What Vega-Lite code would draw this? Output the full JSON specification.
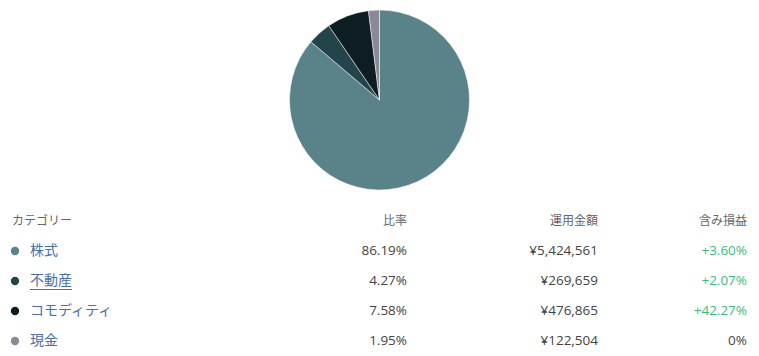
{
  "$schema": "https://vega.github.io/schema/vega-lite/v6.json",
  "padding": 0,
  "spacing": 6,
  "background": "#ffffff",
  "config": {"view": {"stroke": null}, "font": "Open Sans, Noto Sans CJK JP", "axis": {"disable": true}},
  "datasets": {
    "assets": [
      {"idx": 1, "cat": "株式", "pct": 86.19, "ratio": "86.19%", "amount": "¥5,424,561", "gain": "+3.60%"},
      {"idx": 2, "cat": "不動産", "pct": 4.27, "ratio": "4.27%", "amount": "¥269,659", "gain": "+2.07%"},
      {"idx": 3, "cat": "コモディティ", "pct": 7.58, "ratio": "7.58%", "amount": "¥476,865", "gain": "+42.27%"},
      {"idx": 4, "cat": "現金", "pct": 1.95, "ratio": "1.95%", "amount": "¥122,504", "gain": "0%"}
    ],
    "headers": [
      {"col": "category", "label": "カテゴリー"},
      {"col": "ratio", "label": "比率"},
      {"col": "amount", "label": "運用金額"},
      {"col": "gain", "label": "含み損益"}
    ]
  },
  "resolve": {"scale": {"color": "independent", "y": "independent", "x": "independent"}},
  "vconcat": [
    {
      "width": 759,
      "height": 200,
      "data": {"name": "assets"},
      "mark": {"type": "arc", "outerRadius": 90, "stroke": "#ffffff", "strokeWidth": 0.5},
      "encoding": {
        "theta": {"field": "pct", "type": "quantitative", "stack": true},
        "order": {"field": "idx", "type": "quantitative"},
        "color": {
          "field": "cat", "type": "nominal", "legend": null,
          "scale": {"domain": ["株式", "不動産", "コモディティ", "現金"], "range": ["#5a8289", "#24444b", "#0e1d22", "#8a8995"]}
        }
      }
    },
    {
      "spacing": 0,
      "bounds": "flush",
      "resolve": {"scale": {"color": "independent", "y": "independent", "x": "independent"}},
      "hconcat": [
        {
          "width": 45,
          "height": 150,
          "layer": [
            {
              "data": {"name": "headers"},
              "transform": [{"filter": "datum.col === 'category'"}],
              "mark": {"type": "text", "align": "left", "baseline": "middle", "fontSize": 12, "color": "#666666", "dx": -18},
              "encoding": {
                "x": {"datum": "cat", "type": "nominal", "axis": null, "scale": {"type": "point", "domain": ["dot", "cat"], "padding": 1.2308}},
                "y": {"datum": "header", "type": "nominal", "axis": null, "scale": {"type": "point", "domain": ["header", "株式", "不動産", "コモディティ", "現金"], "padding": 0.5}},
                "text": {"field": "label"}
              }
            },
            {
              "data": {"name": "assets"},
              "mark": {"type": "circle", "size": 70, "opacity": 1},
              "encoding": {
                "x": {"datum": "dot", "type": "nominal", "axis": null},
                "y": {"field": "cat", "type": "nominal", "axis": null},
                "color": {
                  "field": "cat", "type": "nominal", "legend": null,
                  "scale": {"domain": ["株式", "不動産", "コモディティ", "現金"], "range": ["#5a8289", "#24444b", "#0e1d22", "#8a8995"]}
                }
              }
            },
            {
              "data": {"name": "assets"},
              "mark": {"type": "text", "align": "left", "baseline": "middle", "fontSize": 14, "color": "#4a6ea6"},
              "encoding": {
                "x": {"datum": "cat", "type": "nominal", "axis": null},
                "y": {"field": "cat", "type": "nominal", "axis": null},
                "text": {"field": "cat"}
              }
            },
            {
              "data": {"name": "assets"},
              "transform": [{"filter": "datum.cat === '不動産'"}],
              "mark": {"type": "rule", "color": "#4a6ea6", "strokeWidth": 1, "x2Offset": 42, "yOffset": 8.5},
              "encoding": {
                "x": {"datum": "cat", "type": "nominal", "axis": null},
                "x2": {"datum": "cat"},
                "y": {"field": "cat", "type": "nominal", "axis": null}
              }
            }
          ],
          "resolve": {"scale": {"color": "independent"}}
        },
        {
          "width": 362,
          "height": 150,
          "layer": [
            {
              "data": {"name": "headers"},
              "transform": [{"filter": "datum.col === 'ratio'"}],
              "mark": {"type": "text", "align": "right", "baseline": "middle", "fontSize": 12, "color": "#666666"},
              "encoding": {
                "x": {"datum": "edge", "type": "nominal", "axis": null, "scale": {"type": "point", "domain": ["edge"], "padding": 0, "align": 1}},
                "y": {"datum": "header", "type": "nominal", "axis": null, "scale": {"type": "point", "domain": ["header", "株式", "不動産", "コモディティ", "現金"], "padding": 0.5}},
                "text": {"field": "label"}
              }
            },
            {
              "data": {"name": "assets"},
              "mark": {"type": "text", "align": "right", "baseline": "middle", "fontSize": 13.5, "color": "#444444"},
              "encoding": {
                "x": {"datum": "edge", "type": "nominal", "axis": null},
                "y": {"field": "cat", "type": "nominal", "axis": null},
                "text": {"field": "ratio"}
              }
            }
          ]
        },
        {
          "width": 191,
          "height": 150,
          "layer": [
            {
              "data": {"name": "headers"},
              "transform": [{"filter": "datum.col === 'amount'"}],
              "mark": {"type": "text", "align": "right", "baseline": "middle", "fontSize": 12, "color": "#666666"},
              "encoding": {
                "x": {"datum": "edge", "type": "nominal", "axis": null, "scale": {"type": "point", "domain": ["edge"], "padding": 0, "align": 1}},
                "y": {"datum": "header", "type": "nominal", "axis": null, "scale": {"type": "point", "domain": ["header", "株式", "不動産", "コモディティ", "現金"], "padding": 0.5}},
                "text": {"field": "label"}
              }
            },
            {
              "data": {"name": "assets"},
              "mark": {"type": "text", "align": "right", "baseline": "middle", "fontSize": 13.5, "color": "#444444"},
              "encoding": {
                "x": {"datum": "edge", "type": "nominal", "axis": null},
                "y": {"field": "cat", "type": "nominal", "axis": null},
                "text": {"field": "amount"}
              }
            }
          ]
        },
        {
          "width": 149,
          "height": 150,
          "layer": [
            {
              "data": {"name": "headers"},
              "transform": [{"filter": "datum.col === 'gain'"}],
              "mark": {"type": "text", "align": "right", "baseline": "middle", "fontSize": 12, "color": "#666666"},
              "encoding": {
                "x": {"datum": "edge", "type": "nominal", "axis": null, "scale": {"type": "point", "domain": ["edge"], "padding": 0, "align": 1}},
                "y": {"datum": "header", "type": "nominal", "axis": null, "scale": {"type": "point", "domain": ["header", "株式", "不動産", "コモディティ", "現金"], "padding": 0.5}},
                "text": {"field": "label"}
              }
            },
            {
              "data": {"name": "assets"},
              "mark": {"type": "text", "align": "right", "baseline": "middle", "fontSize": 13.5},
              "encoding": {
                "x": {"datum": "edge", "type": "nominal", "axis": null},
                "y": {"field": "cat", "type": "nominal", "axis": null},
                "text": {"field": "gain"},
                "color": {
                  "condition": {"test": "datum.gain !== '0%'", "value": "#3dba83"},
                  "value": "#444444"
                }
              }
            }
          ]
        }
      ]
    }
  ]
}
